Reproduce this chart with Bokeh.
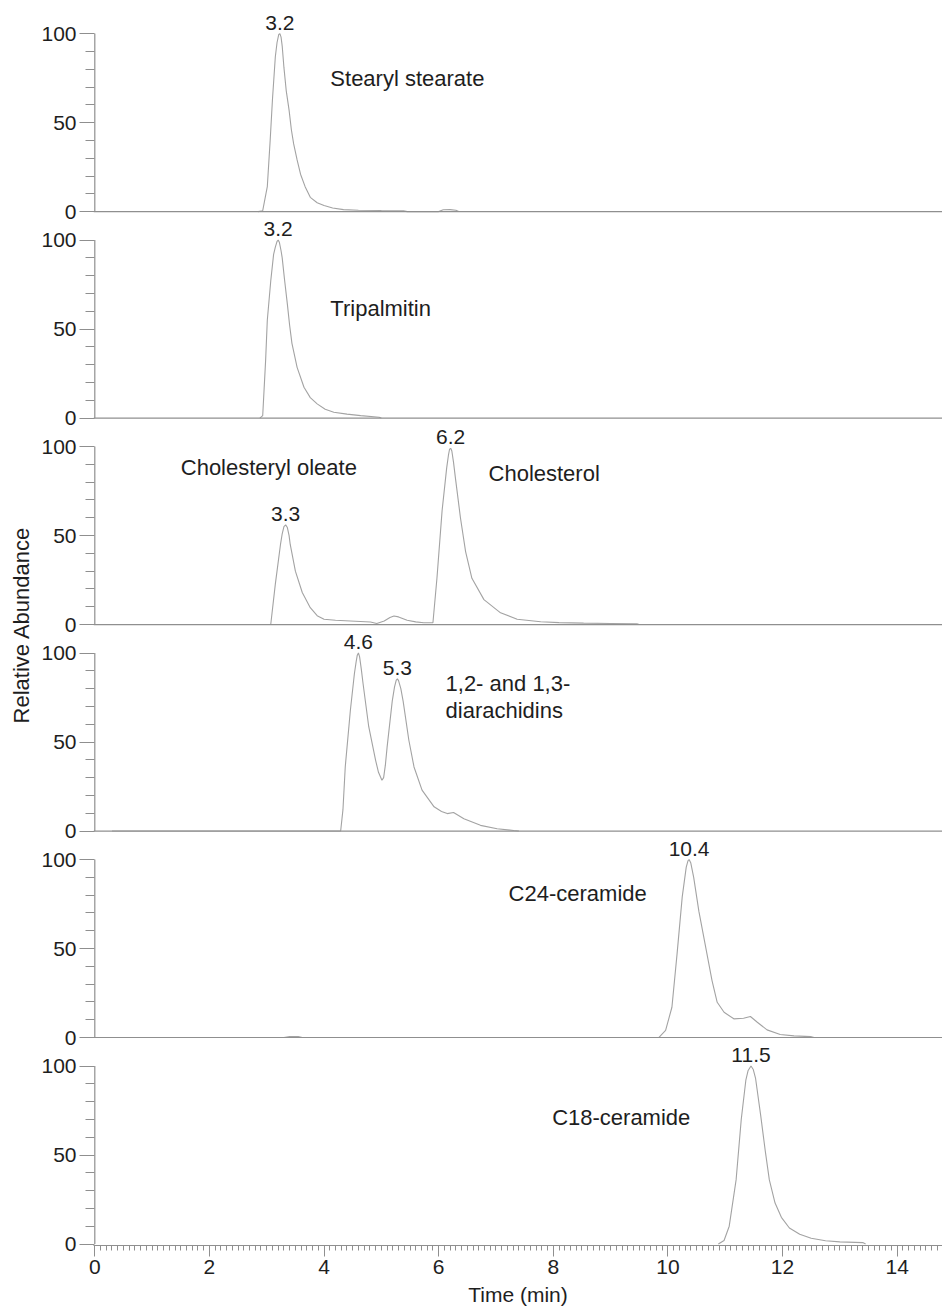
from bokeh.plotting import figure
from bokeh.models import Range1d, Span, FixedTicker, SingleIntervalTicker, CustomJSTickFormatter
from bokeh.core.properties import value
from bokeh.embed import file_html
from bokeh.resources import INLINE

# ---------------- data ----------------
# Panel 1: Stearyl stearate
p1_time = [2.85, 2.93, 3.01, 3.06, 3.10, 3.15, 3.18, 3.21, 3.23, 3.25, 3.27, 3.30, 3.34, 3.39,
           3.43, 3.47, 3.53, 3.59, 3.67, 3.76, 3.88, 4.00, 4.15, 4.34, 4.60, 5.00, 5.39, 5.45,
           6.00, 6.08, 6.20, 6.30, 6.35]
p1_abund = [0, 0.5, 14, 40, 63, 87, 95, 99.5, 100, 98, 93, 81, 68, 57,
            46, 38, 29, 21, 14, 8, 5, 3.4, 2, 1.1, 0.8, 0.6, 0.5, 0,
            0, 1.0, 1.1, 0.8, 0]
p1_peak_time = [3.23]
p1_peak_abund = [100]
p1_peak_label = ["3.2"]
p1_names = ["Stearyl stearate"]

# Panel 2: Tripalmitin
p2_time = [2.88, 2.93, 2.98, 3.01, 3.07, 3.12, 3.15, 3.18, 3.20, 3.22, 3.25, 3.27, 3.31, 3.36,
           3.40, 3.44, 3.53, 3.65, 3.76, 3.88, 4.02, 4.17, 4.40, 4.64, 4.96, 5.00]
p2_abund = [0, 1.4, 32, 55, 77, 92, 96, 99.3, 100, 98.8, 94, 90, 78, 64,
            52, 42, 28.5, 17.3, 11.5, 8, 5, 3.3, 2.2, 1.4, 0.5, 0]
p2_peak_time = [3.20]
p2_peak_abund = [100]
p2_peak_label = ["3.2"]
p2_names = ["Tripalmitin"]

# Panel 3: Cholesteryl oleate + Cholesterol
p3_time = [3.07, 3.15, 3.24, 3.27, 3.30, 3.33, 3.36, 3.39, 3.41, 3.50, 3.62, 3.76, 3.88, 4.00,
           4.20, 4.46, 4.81, 4.92, 5.05, 5.15, 5.22, 5.30, 5.45, 5.60, 5.74, 5.90, 5.97, 6.06,
           6.14, 6.17, 6.19, 6.21, 6.23, 6.26, 6.29, 6.38, 6.47, 6.58, 6.79, 7.08, 7.37, 7.78,
           8.10, 8.53, 9.00, 9.46, 9.50]
p3_abund = [0, 22.7, 45, 51, 55, 56, 54.5, 50, 45, 30, 18, 9.5, 5, 3,
            2.4, 2, 1.4, 0.6, 2, 4, 4.8, 4.3, 2.4, 1.5, 1, 1, 26, 64,
            88, 95, 98.5, 99, 97.5, 91, 83, 60, 41, 26, 14, 6.6, 3, 1.6,
            1.1, 0.8, 0.6, 0.4, 0]
p3_peak_time = [3.33, 6.21]
p3_peak_abund = [56, 99]
p3_peak_label = ["3.3", "6.2"]
p3_names = ["Cholesteryl oleate", "Cholesterol"]

# Panel 4: 1,2- and 1,3-diarachidins
p4_time = [0.30, 4.29, 4.33, 4.37, 4.46, 4.53, 4.56, 4.58, 4.60, 4.62, 4.65, 4.68, 4.78, 4.90,
           4.95, 5.01, 5.04, 5.07, 5.10, 5.19, 5.23, 5.26, 5.28, 5.30, 5.34, 5.38, 5.48, 5.57,
           5.71, 5.92, 6.05, 6.15, 6.26, 6.44, 6.73, 7.02, 7.31, 7.40]
p4_abund = [0, 0, 12, 36, 68, 88.5, 95, 98.8, 100, 98, 91, 83, 58.6, 39.7,
            33, 28.5, 30, 37, 47, 73, 81, 84.8, 85.5, 84.5, 80, 73, 51, 36,
            23, 13.6, 11, 9.8, 10.4, 6.9, 3.2, 1.3, 0.3, 0]
p4_peak_time = [4.60, 5.28]
p4_peak_abund = [100, 85.5]
p4_peak_label = ["4.6", "5.3"]
p4_names = ["1,2- and 1,3-", "diarachidins"]

# Panel 5: C24-ceramide
p5_time = [3.30, 3.40, 3.55, 3.62, 9.84, 9.96, 10.07, 10.16, 10.25, 10.32, 10.35, 10.37, 10.40,
           10.45, 10.54, 10.66, 10.77, 10.86, 10.98, 11.15, 11.32, 11.44, 11.56, 11.73, 11.96,
           12.20, 12.49, 12.55]
p5_abund = [0, 0.6, 0.6, 0, 0, 4, 17, 47, 79, 95.7, 99.2, 100, 98,
            90, 71, 50.7, 32, 19.8, 14.2, 10.5, 10.8, 11.8, 8.6, 4.3, 1.7,
            0.9, 0.5, 0]
p5_peak_time = [10.37]
p5_peak_abund = [100]
p5_peak_label = ["10.4"]
p5_names = ["C24-ceramide"]

# Panel 6: C18-ceramide
p6_time = [10.88, 10.98, 11.07, 11.19, 11.28, 11.36, 11.40, 11.45, 11.49, 11.53, 11.62, 11.70,
           11.77, 11.87, 11.98, 12.12, 12.30, 12.50, 12.75, 13.00, 13.40, 13.45]
p6_abund = [0, 2, 10, 36, 70, 92, 97.5, 100, 98, 93, 72, 52,
            36, 23, 15, 9, 5.5, 3.2, 1.8, 1.2, 0.8, 0]
p6_peak_time = [11.45]
p6_peak_abund = [100]
p6_peak_label = ["11.5"]
p6_names = ["C18-ceramide"]

# annotation anchor points (data coordinates: time, abundance)
p1_name_pos = [(4.11, 75)]
p2_name_pos = [(4.11, 61.5)]
p3_name_pos = [(1.50, 88), (6.87, 85)]
p4_name_pos = [(6.12, 83), (6.12, 67.7)]
p5_name_pos = [(7.22, 81)]
p6_name_pos = [(7.98, 71)]

y_tick_values = [0, 50, 100]
y_minor_values = [10, 20, 30, 40, 60, 70, 80, 90]
x_axis_title = "Time (min)"
y_axis_title = "Relative Abundance"

# ---------------- styling / layout ----------------
FONT = "Liberation Sans"
TXT = "#1e1e1e"
TRACE = "#a3a3a3"
AXIS = "#8f8f8f"
FS = "21px"
FS_NAME = "22px"
PX_PER_MIN = 57.31
PX_PER_UNIT = 1.78
STEP = 116            # vertical offset (abundance units) between stacked panels
LEFT = 93             # frame left edge (px)
X0_PX = 94.3          # pixel of t = 0
FRAME_W = 942 - LEFT
FRAME_TOP = 4
BASE_LAST = 1243.5    # pixel of the bottom panel's baseline
FRAME_BOTTOM = 1245
FRAME_H = FRAME_BOTTOM - FRAME_TOP

panels = [
    (p1_time, p1_abund, p1_peak_time, p1_peak_abund, p1_peak_label, p1_names, p1_name_pos),
    (p2_time, p2_abund, p2_peak_time, p2_peak_abund, p2_peak_label, p2_names, p2_name_pos),
    (p3_time, p3_abund, p3_peak_time, p3_peak_abund, p3_peak_label, p3_names, p3_name_pos),
    (p4_time, p4_abund, p4_peak_time, p4_peak_abund, p4_peak_label, p4_names, p4_name_pos),
    (p5_time, p5_abund, p5_peak_time, p5_peak_abund, p5_peak_label, p5_names, p5_name_pos),
    (p6_time, p6_abund, p6_peak_time, p6_peak_abund, p6_peak_label, p6_names, p6_name_pos),
]
n = len(panels)
offsets = [(n - 1 - k) * STEP for k in range(n)]

x_start = -(X0_PX - LEFT) / PX_PER_MIN
x_end = x_start + FRAME_W / PX_PER_MIN
y_start = -(FRAME_BOTTOM - BASE_LAST) / PX_PER_UNIT
y_end = y_start + FRAME_H / PX_PER_UNIT

p = figure(frame_width=FRAME_W, frame_height=FRAME_H,
           x_range=Range1d(x_start, x_end), y_range=Range1d(y_start, y_end),
           output_backend="svg", toolbar_location=None,
           min_border_left=LEFT, min_border_right=0, min_border_top=FRAME_TOP,
           min_border_bottom=0)
p.outline_line_color = None
p.background_fill_color = "white"
p.border_fill_color = "white"
p.grid.visible = False

# y axis: ticks 0/50/100 repeated for every stacked panel
ya = p.yaxis[0]
ya.ticker = FixedTicker(ticks=[o + v for o in offsets for v in y_tick_values],
                        minor_ticks=[o + v for o in offsets for v in y_minor_values])
ya.formatter = CustomJSTickFormatter(args=dict(step=STEP),
                                     code="return String(Math.round(tick - step * Math.floor((tick + 0.5) / step)));")
ya.axis_line_color = None
ya.major_tick_line_color = AXIS
ya.minor_tick_line_color = AXIS
ya.major_tick_line_width = 1.2
ya.minor_tick_line_width = 1.2
ya.major_tick_out = 14
ya.major_tick_in = 1
ya.minor_tick_out = 8
ya.minor_tick_in = 1
ya.major_label_standoff = 3
ya.major_label_text_font = FONT
ya.major_label_text_font_size = FS
ya.major_label_text_color = TXT
ya.axis_label = y_axis_title
ya.axis_label_standoff = 4
ya.axis_label_text_font = FONT
ya.axis_label_text_font_size = "22px"
ya.axis_label_text_font_style = "normal"
ya.axis_label_text_color = TXT

# vertical axis line of each panel, spanning 0..100 only
p.segment(x0=[0] * n, y0=[o + y_tick_values[0] for o in offsets],
          x1=[0] * n, y1=[o + y_tick_values[-1] for o in offsets],
          line_color=AXIS, line_width=1.2)

# x axis
xa = p.xaxis[0]
xa.ticker = SingleIntervalTicker(interval=2, num_minor_ticks=20)
xa.axis_line_color = AXIS
xa.axis_line_width = 1.2
xa.major_tick_line_color = AXIS
xa.minor_tick_line_color = AXIS
xa.major_tick_out = 11
xa.major_tick_in = 0
xa.minor_tick_out = 5
xa.minor_tick_in = 0
xa.major_label_standoff = 3
xa.major_label_text_font = FONT
xa.major_label_text_font_size = FS
xa.major_label_text_color = TXT
xa.axis_label = x_axis_title
xa.axis_label_standoff = 6
xa.axis_label_text_font = FONT
xa.axis_label_text_font_size = FS
xa.axis_label_text_font_style = "normal"
xa.axis_label_text_color = TXT

for k, (t, a, pt, pa, pl, names, npos) in enumerate(panels):
    o = offsets[k]
    if k < n - 1:
        p.add_layout(Span(location=o, dimension="width", line_color=AXIS, line_width=1.2))
    p.line(t, [v + o for v in a], line_color=TRACE, line_width=1.1)
    p.text(x=pt, y=[v + o for v in pa], text=pl, text_font=value(FONT), text_font_size=FS,
           text_color=TXT, text_align="center", text_baseline="bottom", y_offset=-4)
    p.text(x=[q[0] for q in npos], y=[q[1] + o for q in npos], text=names,
           text_font=value(FONT), text_font_size=FS_NAME, text_color=TXT,
           text_align="left", text_baseline="middle")

with open("out.html", "w") as f:
    f.write(file_html(p, INLINE))
